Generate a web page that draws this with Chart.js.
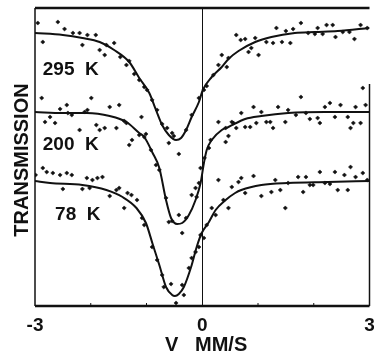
<!DOCTYPE html>
<html>
<head>
<meta charset="utf-8">
<script src="https://cdn.jsdelivr.net/npm/chart.js@4.4.1/dist/chart.umd.min.js"></script>
<style>
  body { margin: 0; background: #fff; }
  canvas { display: block; }
</style>
</head>
<body>
<canvas id="myChart" width="374" height="353"></canvas>
<script>
'use strict';

// velocity (mm/s) and transmission (arb. units)

// fitted curves
let fit295V = [-3.0, -2.50, -2.15, -1.84, -1.58, -1.31, -1.13, -0.95, -0.83, -0.72, -0.60, -0.47, -0.38, -0.29, -0.19, -0.06, 0.01, 0.17, 0.35, 0.47, 0.65, 0.95, 1.24, 1.66, 2.02, 2.43, 3.0];
let fit295T = [273, 271, 268, 264, 256, 244, 228, 213, 196, 181, 171, 166, 168, 176, 189, 204, 216, 229, 239, 247, 255, 264, 269, 273, 274, 275, 278];

let fit200V = [-3.0, -2.50, -2.07, -1.66, -1.36, -1.13, -1.04, -0.89, -0.77, -0.65, -0.56, -0.45, -0.36, -0.24, -0.12, -0.03, 0.03, 0.08, 0.17, 0.35, 0.47, 0.77, 1.06, 1.54, 2.20, 3.0];
let fit200T = [194, 193, 193, 190, 184, 173, 169, 153, 138, 106, 88, 82, 83, 91, 106, 123, 143, 156, 166, 176, 179, 187, 190, 193, 194, 194];

let fit78V = [-3.0, -2.73, -2.15, -1.72, -1.43, -1.18, -1.01, -0.89, -0.77, -0.65, -0.54, -0.49, -0.42, -0.33, -0.20, -0.10, -0.01, 0.12, 0.24, 0.42, 0.59, 0.70, 1.06, 1.54, 2.25, 3.0];
let fit78T = [125, 123, 121, 116, 109, 98, 83, 62, 41, 19, 11, 10, 12, 19, 39, 59, 73, 84, 96, 106, 113, 116, 121, 123, 124, 125];

// measured points
let pts295V = [-2.95, -2.86, -2.59, -2.47, -2.32, -2.20, -2.06, -1.91, -2.15, -1.84, -1.72, -1.58, -1.75, -1.47, -1.36, -1.31, -1.22, -1.13, -1.04, -0.99, -0.90, -0.81, -0.72, -0.63, -0.54, -0.51, -0.60, -0.42, -0.29, -0.19, -0.06, 0.03, 0.08, 0.20, 0.29, 0.35, 0.44, 0.47, 0.61, 0.69, 0.77, 0.83, 0.88, 0.95, 1.01, 1.15, 1.27, 1.33, 1.43, 1.50, 1.58, 1.63, 1.77, 1.90, 2.02, 2.07, 2.16, 2.23, 2.34, 2.39, 2.52, 2.64, 2.73, 2.84, 2.96];
let pts295T = [283, 264, 284, 277, 273, 273, 271, 271, 261, 256, 261, 263, 251, 249, 241, 245, 232, 226, 219, 216, 206, 196, 182, 178, 173, 170, 163, 152, 176, 191, 208, 216, 220, 231, 241, 251, 239, 248, 271, 266, 267, 254, 258, 268, 251, 264, 263, 278, 264, 275, 263, 277, 283, 273, 272, 278, 272, 281, 281, 269, 274, 274, 267, 281, 278];

let pts200V = [-2.88, -2.43, -1.99, -1.66, -1.49, -2.82, -2.73, -2.64, -2.55, -2.41, -2.34, -2.20, -2.11, -2.06, -1.90, -1.84, -1.75, -1.54, -1.40, -1.36, -1.31, -1.26, -1.09, -1.13, -1.01, -1.04, -0.92, -0.83, -0.77, -0.65, -0.60, -0.54, -0.42, -0.36, -0.29, -0.19, -0.10, -0.12, -0.06, -0.03, 0.04, 0.12, 0.15, 0.29, 0.42, 0.47, 0.42, 0.56, 0.53, 0.61, 0.70, 0.77, 0.86, 0.92, 0.97, 1.06, 1.15, 1.22, 1.27, 1.36, 1.49, 1.54, 1.68, 1.77, 1.86, 1.93, 2.07, 2.11, 2.20, 2.29, 2.38, 2.48, 2.61, 2.66, 2.71, 2.75, 2.84, 2.93, 2.88];
let pts200T = [208, 201, 208, 199, 201, 184, 189, 183, 197, 193, 191, 176, 194, 196, 181, 176, 178, 178, 185, 183, 161, 166, 189, 171, 172, 169, 156, 141, 136, 108, 84, 85, 91, 73, 88, 111, 109, 118, 123, 138, 148, 158, 166, 184, 178, 170, 164, 183, 184, 178, 193, 179, 179, 199, 183, 194, 184, 184, 178, 199, 184, 196, 191, 209, 193, 187, 188, 183, 199, 203, 189, 201, 189, 178, 183, 199, 183, 201, 218];

let pts78V = [-2.99, -2.86, -2.79, -2.68, -2.55, -2.43, -2.34, -2.07, -1.97, -1.88, -1.79, -2.50, -2.15, -2.02, -1.66, -1.54, -1.49, -1.40, -1.34, -1.27, -1.17, -1.08, -1.04, -0.90, -0.81, -0.72, -0.69, -0.56, -0.47, -0.36, -0.33, -0.24, -0.19, -0.12, -0.06, -0.03, 0.03, 0.08, 0.17, 0.24, 0.29, 0.38, 0.47, 0.53, 0.65, 0.70, 0.77, 0.92, 1.06, 1.24, 1.31, 1.40, 1.49, 1.54, 1.72, 1.81, 1.86, 1.93, 1.99, 2.11, 2.20, 2.29, 2.38, 2.43, 2.55, 2.61, 2.66, 2.75, 2.88, 2.96];
let pts78T = [131, 138, 134, 133, 131, 133, 131, 128, 126, 128, 129, 117, 117, 118, 110, 116, 118, 98, 113, 111, 106, 88, 81, 59, 46, 31, 19, 22, 3, 21, 11, 38, 48, 54, 59, 71, 68, 81, 98, 91, 126, 106, 98, 119, 124, 128, 113, 130, 110, 114, 126, 116, 98, 123, 129, 114, 129, 121, 121, 134, 123, 122, 134, 116, 131, 116, 139, 129, 133, 126];

// axis text
let xTickLabels = [-3, 0, 3];
let xMinorTicks = [-2, -1, 1, 2];
let tempLabels = ['295  K', '200  K', '78  K'];
let xTitle = 'V   MM/S';
let yTitle = 'TRANSMISSION';

const ink = '#111';
const ctx = document.getElementById('myChart').getContext('2d');

function pairs(xs, ys) {
  let out = [];
  for (let i = 0; i < xs.length; i++) {
    out.push({ x: xs[i], y: ys[i] });
  }
  return out;
}

function fitSet(xs, ys) {
  return {
    data: pairs(xs, ys),
    showLine: true,
    borderColor: ink,
    borderWidth: 2,
    pointRadius: 0,
    cubicInterpolationMode: 'monotone',
    fill: false
  };
}

function pointSet(xs, ys) {
  return {
    data: pairs(xs, ys),
    showLine: false,
    pointStyle: 'rectRot',
    pointRadius: 2.1,
    backgroundColor: ink,
    borderColor: ink,
    borderWidth: 0.5
  };
}

function line(c, x1, y1, x2, y2) {
  c.beginPath();
  c.moveTo(x1, y1);
  c.lineTo(x2, y2);
  c.stroke();
}

// frame, zero line and all text
const frame = {
  id: 'frame',
  beforeDatasetsDraw(chart) {
    const c = chart.ctx;
    const a = chart.chartArea;
    const x = chart.scales.x;
    c.save();
    c.strokeStyle = ink;
    c.lineWidth = 1;
    let zx = Math.round(x.getPixelForValue(0)) + 0.5;
    line(c, zx, a.top, zx, a.bottom);
    c.restore();
  },
  afterDatasetsDraw(chart) {
    const c = chart.ctx;
    const a = chart.chartArea;
    const x = chart.scales.x;
    const y = chart.scales.y;
    c.save();
    c.strokeStyle = ink;
    c.lineWidth = 2.5;
    line(c, a.left, a.top, a.right, a.top);
    line(c, a.left, a.bottom, a.right, a.bottom);
    c.lineWidth = 1.5;
    line(c, a.left, a.top, a.left, a.bottom);
    line(c, a.right, y.getPixelForValue(222), a.right, a.bottom);

    c.lineWidth = 1;
    for (let v of xMinorTicks) {
      let px = x.getPixelForValue(v);
      line(c, px, a.bottom, px, a.bottom - 3);
    }

    c.fillStyle = ink;
    c.font = 'bold 19px "Liberation Sans", Arial, sans-serif';
    c.textAlign = 'center';
    c.textBaseline = 'middle';
    for (let v of xTickLabels) {
      let label = v < 0 ? '-' + Math.abs(v) : String(v);
      c.fillText(label, x.getPixelForValue(v), a.bottom + 20);
    }

    c.font = 'bold 20px "Liberation Sans", Arial, sans-serif';
    c.textAlign = 'left';
    c.fillText(xTitle, 165, a.bottom + 39);

    c.save();
    c.translate(22, 160);
    c.rotate(-Math.PI / 2);
    c.textAlign = 'center';
    c.fillText(yTitle, 0, 0);
    c.restore();

    c.font = 'bold 19px "Liberation Sans", Arial, sans-serif';
    c.textAlign = 'left';
    c.fillText(tempLabels[0], x.getPixelForValue(-2.86), y.getPixelForValue(236));
    c.fillText(tempLabels[1], x.getPixelForValue(-2.86), y.getPixelForValue(161));
    c.fillText(tempLabels[2], x.getPixelForValue(-2.64), y.getPixelForValue(91));
    c.restore();
  }
};

const myChart = new Chart(ctx, {
  type: 'scatter',
  data: {
    datasets: [
      fitSet(fit295V, fit295T),
      fitSet(fit200V, fit200T),
      fitSet(fit78V, fit78T),
      pointSet(pts295V, pts295T),
      pointSet(pts200V, pts200T),
      pointSet(pts78V, pts78T)
    ]
  },
  options: {
    responsive: false,
    animation: false,
    layout: {
      padding: { left: 35, right: 2, top: 8, bottom: 47 }
    },
    plugins: {
      legend: { display: false },
      tooltip: { enabled: false }
    },
    scales: {
      x: { type: 'linear', min: -3, max: 3, display: false },
      y: { type: 'linear', min: 0, max: 298, display: false }
    }
  },
  plugins: [frame]
});
</script>
</body>
</html>
